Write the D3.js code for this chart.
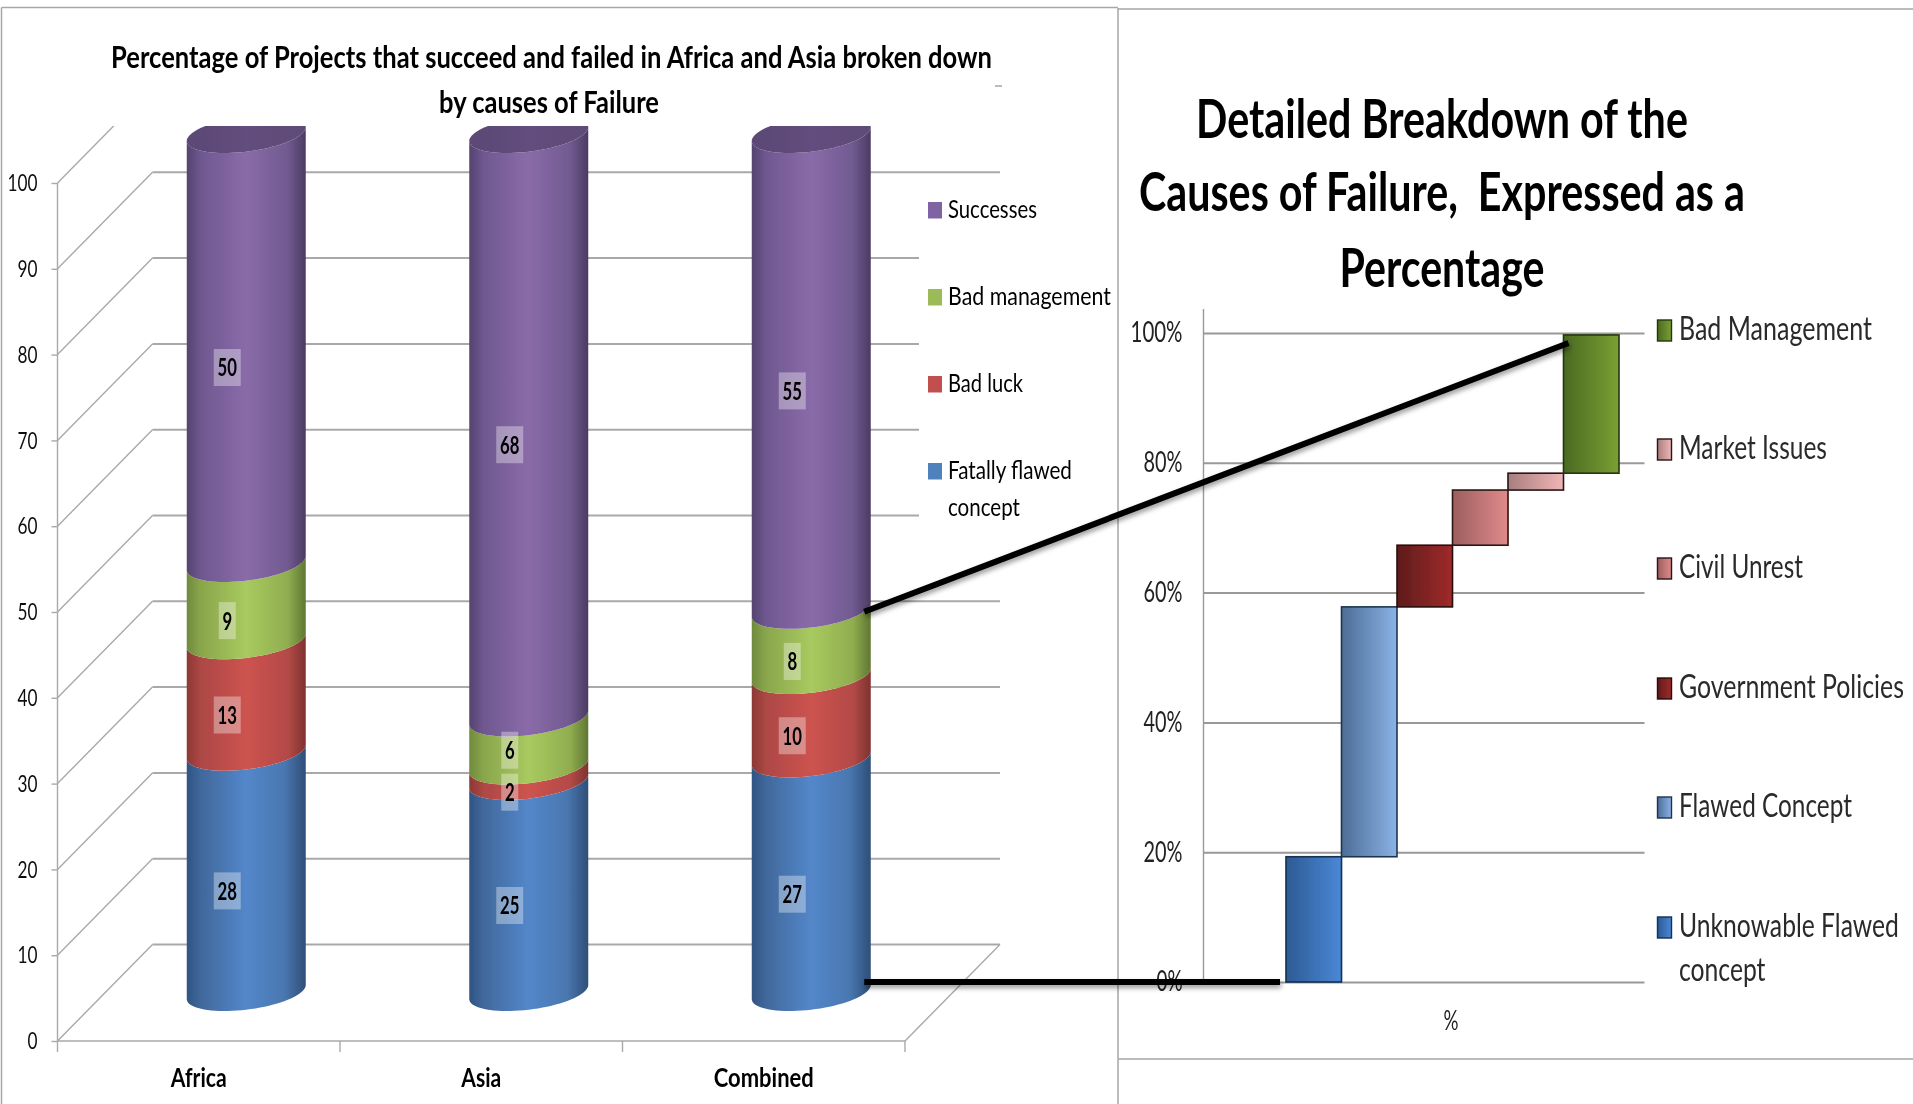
<!DOCTYPE html>
<html>
<head>
<meta charset="utf-8">
<script src="https://cdnjs.cloudflare.com/ajax/libs/d3/7.8.5/d3.min.js"></script>
<style>
html,body{margin:0;padding:0;background:#fff;}
svg{display:block;}
text{font-family:Lato,"Open Sans",sans-serif;}
</style>
</head>
<body>
<svg id="c" width="1913" height="1104"></svg>
<script>
// ---------- data ----------
const categories = ["Africa", "Asia", "Combined"];
const seriesNames = ["Fatally flawed concept", "Bad luck", "Bad management", "Successes"];
// heights; the labels show them rounded
const fatallyFlawed = [28, 24.6, 27.2];
const badLuck = [13, 1.8, 9.7];
const badManagement = [9, 5.6, 7.6];
const successes = [50, 68, 55.4];
const leftTicks = [0, 10, 20, 30, 40, 50, 60, 70, 80, 90, 100];

const causeNames = ["Unknowable Flawed concept", "Flawed Concept", "Government Policies", "Civil Unrest", "Market Issues", "Bad Management"];
const causeValues = [19.3, 38.5, 9.5, 8.5, 2.6, 21.3];
const rightTicks = [0, 20, 40, 60, 80, 100];

// ---------- setup ----------
const svg = d3.select("#c");
const defs = svg.append("defs");
const GRID = "#a9a9a9";

// squeeze a text horizontally to the measured width of the reference
function fit(sel, width) {
  const node = sel.node();
  const natural = node.getComputedTextLength();
  const xa = +sel.attr("x") || 0;
  const sx = width / natural;
  sel.attr("transform", `translate(${xa},0) scale(${sx},1) translate(${-xa},0)`);
  return sel;
}
function txt(parent, s, x, y, size, width, opts = {}) {
  const t = parent.append("text").attr("x", x).attr("y", y)
    .attr("font-size", size)
    .attr("font-weight", opts.weight || "normal")
    .attr("text-anchor", opts.anchor || "start")
    .attr("fill", opts.fill || "#000")
    .style("white-space", "pre")
    .text(s);
  if (width) fit(t, width);
  return t;
}
function hGrad(id, stops) {
  const g = defs.append("linearGradient").attr("id", id).attr("x1", 0).attr("x2", 1).attr("y1", 0).attr("y2", 0);
  stops.forEach(([o, c]) => g.append("stop").attr("offset", o).attr("stop-color", c));
  return `url(#${id})`;
}

defs.append("clipPath").attr("id", "plotClip").append("rect")
  .attr("x", 0).attr("y", 126).attr("width", 1118).attr("height", 978);
const shadow = defs.append("filter").attr("id", "lineShadow")
  .attr("filterUnits", "userSpaceOnUse").attr("x", 800).attr("y", 300).attr("width", 900).attr("height", 750);
shadow.append("feDropShadow").attr("dx", 1).attr("dy", 3).attr("stdDeviation", 2.5)
  .attr("flood-color", "#000").attr("flood-opacity", 0.4);
const soft = defs.append("filter").attr("id", "soft")
  .attr("filterUnits", "userSpaceOnUse").attr("x", 0).attr("y", 0).attr("width", 1913).attr("height", 1104);
soft.append("feGaussianBlur").attr("stdDeviation", 0.45);

// ---------- panel frames ----------
const frame = svg.append("g").attr("stroke", "#a6a6a6").attr("stroke-width", 1.5).attr("fill", "none");
[[1.5, 7.5, 1118, 7.5], [1.5, 7.5, 1.5, 1104], [1118, 9, 1913, 9], [1118, 8, 1118, 1104], [1118, 1059, 1913, 1059], [995, 86, 1002, 86]]
  .forEach(([x1, y1, x2, y2]) => frame.append("line").attr("x1", x1).attr("y1", y1).attr("x2", x2).attr("y2", y2));

// ---------- left chart ----------
const left = svg.append("g").attr("filter", "url(#soft)");
const depthX = 95, depthY = 96.5;
const xCat = d3.scaleBand().domain(categories).range([57.5, 905]).padding(0);
const yFront = d3.scaleLinear().domain([0, 100]).range([1041, 183]);
const yCyl = d3.scaleLinear().domain([0, 1]).range([992, 134]);
const cylW = 119, tilt = 7, cylB = 17.7;

const walls = left.append("g").attr("clip-path", "url(#plotClip)");
leftTicks.forEach(v => {
  const y = yFront(v);
  walls.append("line").attr("x1", 57.5).attr("y1", y).attr("x2", 57.5 + depthX).attr("y2", y - depthY)
    .attr("stroke", GRID).attr("stroke-width", 1.4);
  walls.append("line").attr("x1", 57.5 + depthX).attr("y1", y - depthY).attr("x2", 905 + depthX).attr("y2", y - depthY)
    .attr("stroke", GRID).attr("stroke-width", 2);
});
walls.append("line").attr("x1", 905).attr("y1", yFront(0)).attr("x2", 905 + depthX).attr("y2", yFront(0) - depthY)
  .attr("stroke", GRID).attr("stroke-width", 1.4);

// white background of the legend hides the wall lines behind it
left.append("rect").attr("x", 919).attr("y", 180).attr("width", 198).attr("height", 410).attr("fill", "#fff");

// front axes
const axisL = left.append("g").attr("transform", "translate(57.5,0)")
  .call(d3.axisLeft(yFront).tickValues(leftTicks).tickSize(6).tickPadding(14));
axisL.selectAll("path").attr("d", `M0,${yFront(100)}V${yFront(0)}`).attr("stroke", GRID).attr("stroke-width", 1.4);
axisL.selectAll(".tick line").attr("stroke", GRID).attr("stroke-width", 1.4);
axisL.selectAll(".tick text").each(function (d) {
  const t = d3.select(this).attr("font-size", 24).attr("font-family", "Lato").attr("fill", "#111");
  fit(t, 10 * String(d).length);
});

const axisB = left.append("g").attr("transform", `translate(0,${yFront(0)})`)
  .call(d3.axisBottom(xCat).tickSize(0).tickPadding(30));
axisB.selectAll("path").attr("stroke", GRID).attr("stroke-width", 1.6).attr("d", "M57.5,0H905");
const catWidths = [56, 40, 100];
axisB.selectAll(".tick text").each(function (d, i) {
  const t = d3.select(this).attr("font-size", 27).attr("font-family", "Lato").attr("font-weight", "bold").attr("fill", "#000")
    .attr("dy", 0).attr("y", 46);
  fit(t, catWidths[i]);
});
d3.range(categories.length + 1).forEach(i => {
  const x = 57.5 + i * xCat.step();
  axisB.append("line").attr("x1", x).attr("x2", x).attr("y1", 0).attr("y2", 11).attr("stroke", GRID).attr("stroke-width", 1.4);
});

// stacked cylinders
const rows = categories.map((c, i) => ({
  category: c,
  [seriesNames[0]]: fatallyFlawed[i],
  [seriesNames[1]]: badLuck[i],
  [seriesNames[2]]: badManagement[i],
  [seriesNames[3]]: successes[i]
}));
const stacked = d3.stack().keys(seriesNames).offset(d3.stackOffsetExpand)(rows);

const cylGrads = {
  [seriesNames[0]]: hGrad("gBlue", [[0, "#2f5482"], [0.12, "#41689c"], [0.5, "#5387ca"], [0.82, "#4a77b0"], [1, "#2e4f78"]]),
  [seriesNames[1]]: hGrad("gRed", [[0, "#8c3835"], [0.12, "#ad4845"], [0.5, "#cd534f"], [0.85, "#b34a47"], [1, "#7f3230"]]),
  [seriesNames[2]]: hGrad("gGreen", [[0, "#6f8a3d"], [0.12, "#8aa64c"], [0.5, "#a8ca5f"], [0.85, "#90ad50"], [1, "#5f7733"]]),
  [seriesNames[3]]: hGrad("gPurple", [[0, "#54436f"], [0.12, "#6f5890"], [0.5, "#8a6ba9"], [0.85, "#705a90"], [1, "#4b3b63"]])
};
const capGrad = hGrad("gCap", [[0, "#5b4876"], [0.5, "#624d7c"], [1, "#5f4b78"]]);
const line = d3.line().x(d => d[0]).y(d => d[1]);
const angles = d3.range(0, 41).map(i => i / 40 * Math.PI);   // right edge -> left edge, along the front

function frontCurve(cx, cy) {
  return angles.map(t => [cx + cylW / 2 * Math.cos(t), cy + cylB * Math.sin(t) - tilt * Math.cos(t)]);
}
const cyls = left.append("g").attr("clip-path", "url(#plotClip)");
categories.forEach((c, ci) => {
  const cx = xCat(c) + xCat.bandwidth() / 2 + depthX / 2;
  const g = cyls.append("g");
  stacked.forEach(layer => {
    const [v0, v1] = layer[ci];
    const lower = frontCurve(cx, yCyl(v0));
    const upper = frontCurve(cx, yCyl(v1)).reverse();
    g.append("path").attr("d", line(lower.concat(upper)) + "Z").attr("fill", cylGrads[layer.key]);
  });
  const topY = yCyl(1);
  const cap = d3.range(0, 81).map(i => {
    const t = i / 80 * 2 * Math.PI;
    return [cx + cylW / 2 * Math.cos(t), topY + cylB * Math.sin(t) - tilt * Math.cos(t)];
  });
  g.append("path").attr("d", line(cap) + "Z").attr("fill", capGrad);
});
// data labels; a label that would overlap the one below it is pushed up
const labels = left.append("g");
const round = d3.format(".0f");
categories.forEach((c, ci) => {
  const cx = xCat(c) + xCat.bandwidth() / 2 + depthX / 2 - 19;
  let prevTop = Infinity;
  stacked.forEach(layer => {
    const [v0, v1] = layer[ci];
    const s = round(layer[ci].data[layer.key]);
    const bw = s.length === 1 ? 17 : 27, bh = 37;
    let cy = yCyl((v0 + v1) / 2) + 19;
    if (cy + bh / 2 > prevTop - 5) cy = prevTop - 5 - bh / 2;
    prevTop = cy - bh / 2;
    labels.append("rect").attr("x", cx - bw / 2).attr("y", cy - bh / 2).attr("width", bw).attr("height", bh)
      .attr("fill", "#fff").attr("fill-opacity", 0.35);
    txt(labels, s, cx, cy + 9, 25.5, 9.7 * s.length, { anchor: "middle", weight: "bold" });
  });
});

// left title
txt(left, "Percentage of Projects that succeed and failed in Africa and Asia broken down", 551.5, 68, 31, 881, { anchor: "middle", weight: "bold" });
txt(left, "by causes of Failure", 549, 113, 31, 220, { anchor: "middle", weight: "bold" });

// left legend
const leftLegend = [
  { lines: ["Successes"], w: [89], c: "#8064a2", y: 218 },
  { lines: ["Bad management"], w: [163], c: "#9bbb59", y: 305 },
  { lines: ["Bad luck"], w: [75], c: "#c0504d", y: 392 },
  { lines: ["Fatally flawed", "concept"], w: [124, 72], c: "#4f81bd", y: 479 }
];
leftLegend.forEach(d => {
  left.append("rect").attr("x", 928).attr("y", d.y - 16).attr("width", 14).attr("height", 16.5).attr("fill", d.c);
  d.lines.forEach((l, i) => txt(left, l, 948, d.y + i * 37, 25, d.w[i]));
});

// ---------- right chart ----------
const right = svg.append("g").attr("filter", "url(#soft)");
const yR = d3.scaleLinear().domain([0, 100]).range([982, 333]);
const xR = d3.scaleBand().domain(causeNames).range([1286, 1619]).padding(0);

const axisR = right.append("g").attr("transform", "translate(1203.5,0)")
  .call(d3.axisLeft(yR).tickValues(rightTicks).tickSize(-441).tickPadding(21).tickFormat(d => d + "%"));
axisR.selectAll("path").attr("stroke", "#999").attr("stroke-width", 1.4).attr("d", "M0,309V982");
axisR.selectAll(".tick line").attr("stroke", "#999").attr("stroke-width", 2);
axisR.selectAll(".tick text").each(function () {
  const t = d3.select(this).attr("font-size", 28).attr("font-family", "Lato").attr("fill", "#222");
  fit(t, 13 * t.text().length);
});

const causeGrads = [
  hGrad("c0", [[0, "#2d5a94"], [1, "#4a88d6"]]),
  hGrad("c1", [[0, "#4d6c96"], [1, "#8ab3e6"]]),
  hGrad("c2", [[0, "#5e1c1c"], [1, "#a02a2a"]]),
  hGrad("c3", [[0, "#9c5e5e"], [1, "#e08a8a"]]),
  hGrad("c4", [[0, "#a87e7e"], [1, "#f0b6b6"]]),
  hGrad("c5", [[0, "#4b6a22"], [1, "#7b9f33"]])
];
const causeStroke = ["#12304f", "#1f3550", "#2a0a0a", "#2a1515", "#2a1515", "#26350f"];
const cum = d3.cumsum(causeValues);
causeNames.forEach((n, i) => {
  const v0 = i ? cum[i - 1] : 0, v1 = cum[i];
  right.append("rect").attr("x", xR(n)).attr("width", xR.bandwidth())
    .attr("y", yR(v1)).attr("height", yR(v0) - yR(v1))
    .attr("fill", causeGrads[i]).attr("stroke", causeStroke[i]).attr("stroke-width", 1.6);
});

txt(right, "%", 1451, 1030, 27, 15, { anchor: "middle", fill: "#222" });

// right legend (top to bottom)
const rightLegend = [
  { i: 5, lines: ["Bad Management"], w: [193], y: 340 },
  { i: 4, lines: ["Market Issues"], w: [148], y: 459 },
  { i: 3, lines: ["Civil Unrest"], w: [124], y: 578 },
  { i: 2, lines: ["Government Policies"], w: [225], y: 698 },
  { i: 1, lines: ["Flawed Concept"], w: [173], y: 817 },
  { i: 0, lines: ["Unknowable Flawed", "concept"], w: [220, 86.5], y: 937 }
];
rightLegend.forEach(d => {
  right.append("rect").attr("x", 1657.5).attr("y", d.y - 20).attr("width", 14).attr("height", 21)
    .attr("fill", causeGrads[d.i]).attr("stroke", causeStroke[d.i]).attr("stroke-width", 1.4);
  d.lines.forEach((l, j) => txt(right, l, 1679, d.y + j * 44, 32, d.w[j], { fill: "#2b2b2b" }));
});

// right title
txt(right, "Detailed Breakdown of the", 1442, 138, 54, 492, { anchor: "middle", weight: "bold" });
txt(right, "Causes of Failure,  Expressed as a", 1442, 211, 54, 606, { anchor: "middle", weight: "bold" });
txt(right, "Percentage", 1442, 287, 54, 205, { anchor: "middle", weight: "bold" });

// ---------- connector lines from the Combined bar to the breakdown ----------
const conn = svg.append("g").attr("stroke", "#000").attr("stroke-width", 6).attr("filter", "url(#lineShadow)").attr("fill", "none");
const combinedX = xCat("Combined") + xCat.bandwidth() / 2 + depthX / 2 + cylW / 2 - 6.5;
conn.append("line").attr("x1", combinedX).attr("y1", yCyl(stacked[2][2][1]) + 2).attr("x2", xR(causeNames[5]) + 5).attr("y2", yR(cum[5]) + 8);
conn.append("line").attr("x1", combinedX).attr("y1", yR(0)).attr("x2", xR(causeNames[0]) - 6).attr("y2", yR(0));
</script>
</body>
</html>
